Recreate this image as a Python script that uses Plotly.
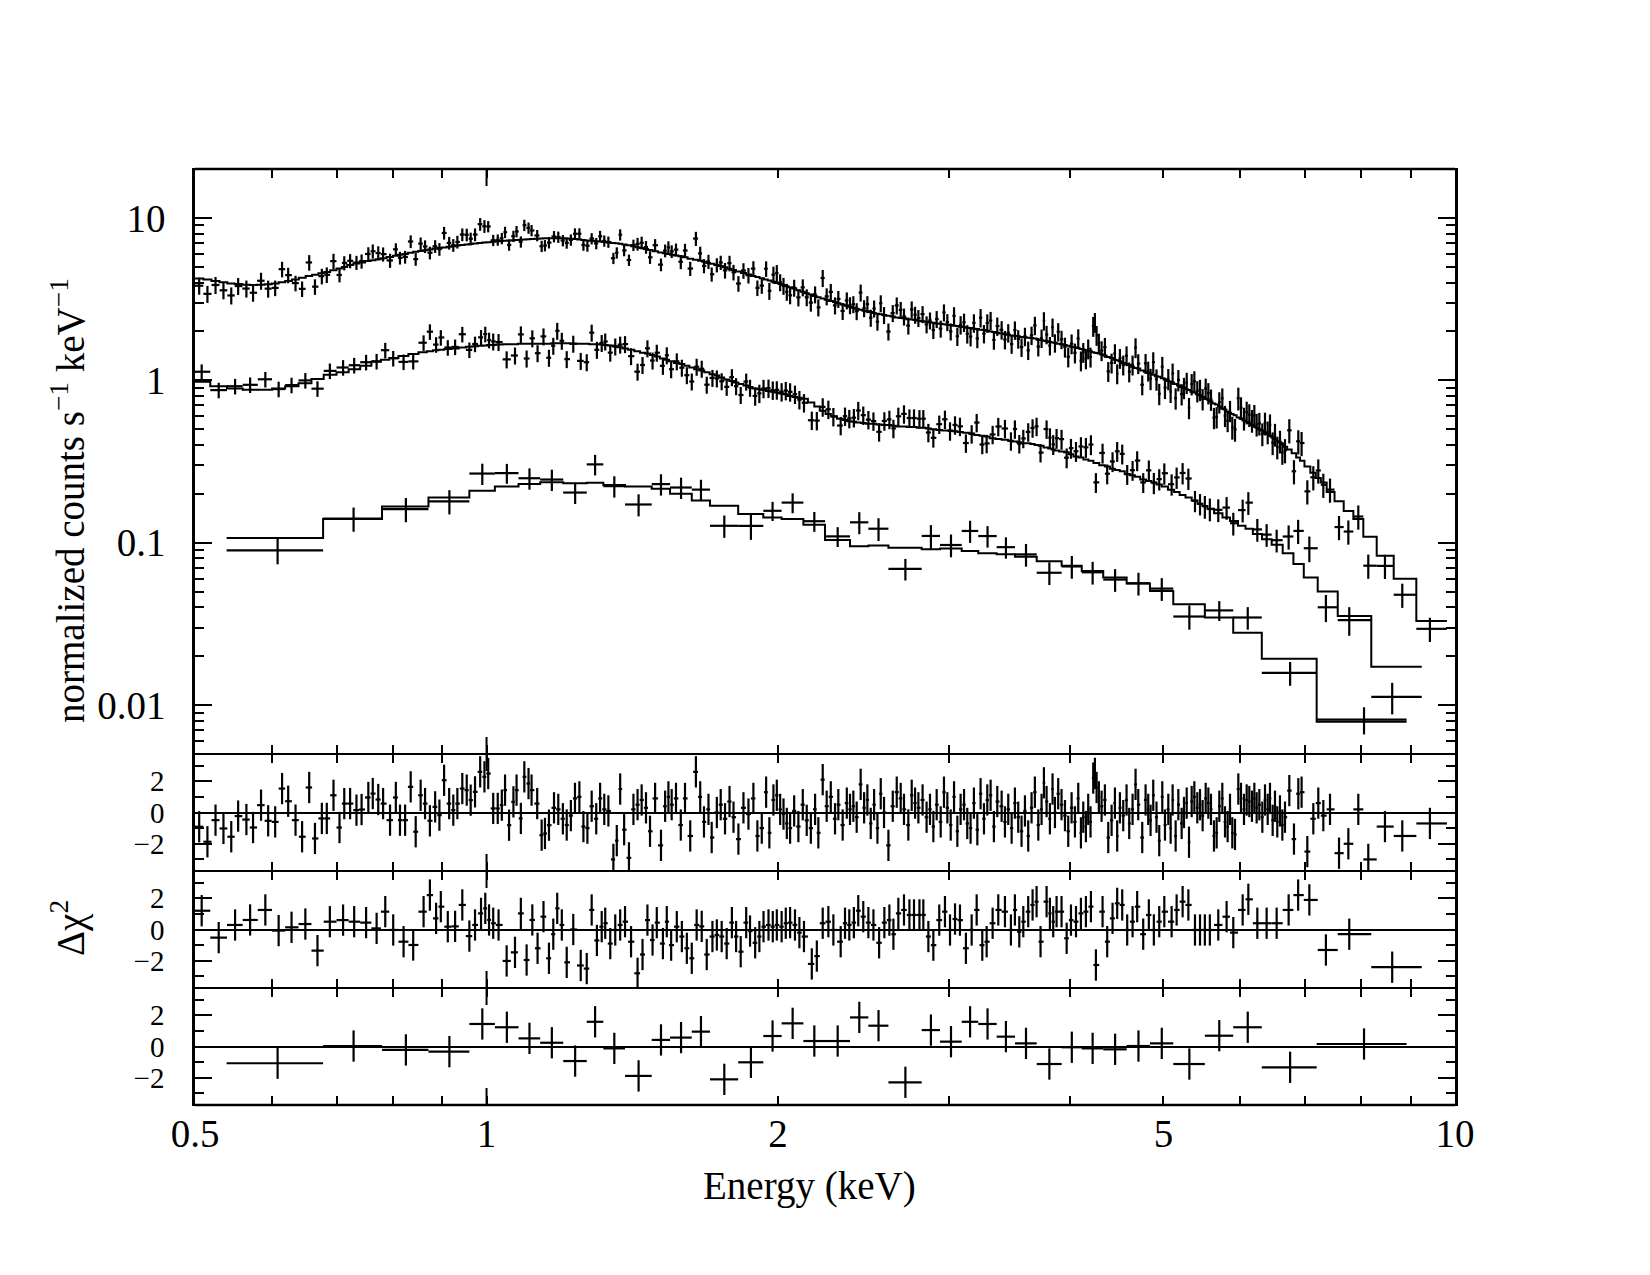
import math
import plotly.graph_objects as go
from plotly.subplots import make_subplots

FONT = "Liberation Serif, Times New Roman, serif"
FS = 39
FS_RES = 29

# ---------------- Spectrum A (brightest, finely binned) ----------------
A_energy = [
    0.505, 0.515, 0.525, 0.535, 0.545, 0.554, 0.565, 0.574, 0.585, 0.595,
    0.605, 0.615, 0.624, 0.635, 0.645, 0.656, 0.665, 0.676, 0.684, 0.695,
    0.705, 0.713, 0.723, 0.734, 0.743, 0.755, 0.763, 0.773, 0.782, 0.795,
    0.806, 0.814, 0.824, 0.835, 0.845, 0.855, 0.864, 0.874, 0.885, 0.894,
    0.904, 0.915, 0.924, 0.933, 0.944, 0.954, 0.963, 0.973, 0.985, 0.995,
    1.004, 1.016, 1.027, 1.037, 1.045, 1.055, 1.066, 1.074, 1.085, 1.094,
    1.105, 1.113, 1.128, 1.140, 1.149, 1.160,
    1.174, 1.186, 1.199, 1.210, 1.222, 1.234, 1.247, 1.259, 1.271, 1.284,
    1.298, 1.310, 1.323, 1.336, 1.352, 1.363, 1.374, 1.387, 1.403, 1.418,
    1.432, 1.446, 1.461, 1.475, 1.493, 1.514, 1.529, 1.541, 1.553, 1.569,
    1.587, 1.603, 1.623, 1.645, 1.662, 1.677, 1.695, 1.708, 1.729, 1.745,
    1.763, 1.782, 1.799, 1.820, 1.842, 1.864, 1.886, 1.904, 1.924, 1.944,
    1.959, 1.978, 1.994, 2.010, 2.026, 2.042, 2.058, 2.078, 2.099, 2.121,
    2.141, 2.162, 2.184, 2.201, 2.224, 2.245, 2.267, 2.290, 2.308, 2.332,
    2.355, 2.373, 2.392, 2.411, 2.434, 2.454, 2.473, 2.493, 2.513, 2.533,
    2.553, 2.573, 2.600, 2.627, 2.652, 2.677, 2.698, 2.726, 2.748, 2.770,
    2.792, 2.820, 2.847, 2.870, 2.893, 2.916, 2.944, 2.967, 2.991, 3.015,
    3.039, 3.063, 3.087, 3.112, 3.136, 3.161, 3.186, 3.212, 3.237, 3.263,
    3.289, 3.315, 3.341, 3.368,
    3.403, 3.430, 3.457, 3.485, 3.512, 3.540, 3.568, 3.597, 3.625, 3.654,
    3.683, 3.713, 3.742, 3.763, 3.787, 3.817, 3.841, 3.863, 3.893, 3.924,
    3.956, 3.987, 4.019, 4.051, 4.083, 4.109, 4.132, 4.158, 4.181, 4.204,
    4.231, 4.248, 4.265, 4.288, 4.316, 4.350, 4.385, 4.420, 4.455, 4.479,
    4.508, 4.544, 4.580, 4.609, 4.646, 4.679, 4.709, 4.754, 4.792, 4.822,
    4.849, 4.880, 4.918, 4.950, 4.986, 5.018, 5.058, 5.086, 5.110, 5.147,
    5.180, 5.221, 5.250, 5.284, 5.313, 5.347, 5.381, 5.419, 5.454, 5.488,
    5.528, 5.563, 5.598, 5.638, 5.674, 5.710, 5.751, 5.788, 5.824, 5.857,
    5.889, 5.927, 5.974, 6.012, 6.055, 6.094, 6.132, 6.171, 6.206, 6.240,
    6.280, 6.325, 6.365, 6.406, 6.441, 6.482, 6.518, 6.554, 6.596, 6.633,
    6.675, 6.744, 6.819, 6.890, 6.944, 7.039, 7.140, 7.225, 7.312, 7.429,
    7.590, 7.760, 7.946, 8.137, 8.466, 8.822, 9.421,
]
A_edge_lo, A_edge_hi = 0.500, 9.81
A_model = [
    4.24, 4.17, 4.09, 4.02, 3.95, 3.91, 3.87, 3.86, 3.87, 3.90,
    3.95, 4.02, 4.09, 4.18, 4.28, 4.38, 4.46, 4.56, 4.65, 4.76,
    4.88, 4.98, 5.13, 5.23, 5.31, 5.42, 5.48, 5.57, 5.64, 5.74,
    5.85, 5.92, 6.00, 6.10, 6.19, 6.26, 6.33, 6.39, 6.47, 6.52,
    6.58, 6.65, 6.70, 6.75, 6.81, 6.86, 6.91, 6.96, 7.01, 7.06,
    7.09, 7.13, 7.17, 7.20, 7.23, 7.26, 7.29, 7.31, 7.34, 7.37,
    7.39, 7.41, 7.44, 7.47, 7.49, 7.50,
    7.50, 7.50, 7.49, 7.47, 7.44, 7.41, 7.35, 7.31, 7.27, 7.22,
    7.18, 7.15, 7.10, 7.05, 7.00, 6.98, 6.93, 6.86, 6.78, 6.69,
    6.60, 6.52, 6.43, 6.34, 6.24, 6.13, 6.06, 5.99, 5.94, 5.86,
    5.80, 5.73, 5.61, 5.52, 5.44, 5.37, 5.28, 5.22, 5.13, 5.05,
    4.96, 4.86, 4.78, 4.68, 4.58, 4.48, 4.39, 4.32, 4.25, 4.17,
    4.11, 4.04, 3.97, 3.92, 3.86, 3.80, 3.74, 3.67, 3.59, 3.51,
    3.44, 3.37, 3.30, 3.25, 3.19, 3.13, 3.08, 3.03, 2.98, 2.93,
    2.88, 2.83, 2.80, 2.76, 2.72, 2.68, 2.66, 2.63, 2.60, 2.57,
    2.55, 2.52, 2.50, 2.47, 2.44, 2.42, 2.41, 2.38, 2.37, 2.35,
    2.33, 2.31, 2.29, 2.28, 2.26, 2.24, 2.23, 2.21, 2.20, 2.19,
    2.17, 2.16, 2.14, 2.13, 2.11, 2.10, 2.08, 2.07, 2.05, 2.04,
    2.02, 2.00, 1.98, 1.96,
    1.94, 1.92, 1.91, 1.89, 1.88, 1.87, 1.85, 1.84, 1.83, 1.82,
    1.81, 1.78, 1.77, 1.75, 1.74, 1.72, 1.71, 1.70, 1.68, 1.67,
    1.65, 1.63, 1.61, 1.60, 1.58, 1.56, 1.55, 1.53, 1.52, 1.51,
    1.49, 1.48, 1.47, 1.46, 1.44, 1.42, 1.39, 1.37, 1.34, 1.33,
    1.31, 1.28, 1.26, 1.24, 1.21, 1.19, 1.18, 1.15, 1.13, 1.11,
    1.10, 1.08, 1.06, 1.05, 1.03, 1.01, 0.99, 0.98, 0.97, 0.95,
    0.93, 0.91, 0.90, 0.88, 0.87, 0.85, 0.84, 0.82, 0.81, 0.79,
    0.77, 0.76, 0.74, 0.72, 0.71, 0.69, 0.67, 0.66, 0.64, 0.63,
    0.62, 0.61, 0.59, 0.58, 0.565, 0.555, 0.545, 0.53, 0.52, 0.51,
    0.50, 0.49, 0.475, 0.465, 0.455, 0.445, 0.435, 0.425, 0.415, 0.405,
    0.39, 0.375, 0.355, 0.335, 0.32, 0.295, 0.27, 0.25, 0.235, 0.205,
    0.180, 0.157, 0.140, 0.109, 0.083, 0.060, 0.033,
]
A_resid = [
    -0.91, -1.87, -0.49, -1.02, -1.55, -0.23, -0.45, -0.96, 0.47, -0.53,
    -0.6, 1.53, 0.72, -0.49, -1.55, 1.6, -1.66, -0.38, -0.38, 1.1,
    -0.96, 0.57, 0.57, 0.15, 0.19, 0.96, 1.21, 0.83, 0.57, -0.49,
    0.96, -0.49, -0.49, 1.64, -1.23, 1.1, 0.57, -0.53, 0.36, -0.17,
    2.06, 0.57, 0.15, 0.57, 1.53, 1.43, 0.79, 1.32, 2.6, 2.28,
    2.49, 0.26, 0.26, 0.47, 1.43, -0.81, 0.68, 1.43, -0.38, 2.28,
    1.85, 1.43, 0.57, -1.45, -1.34, -0.81,
    0.3, 0.2, -0.4, -0.8, -0.2, 0.9, 1.0, -0.9, -1.0, 0.4,
    -0.4, 0.9, 0.2, 0.1, -3.0, -1.8, 1.5, -1.1, -2.9, 0.2,
    0.5, 0.8, 0.3, -1.2, 0.9, -2.1, 0.4, 1.0, 0.5, 0.9,
    -0.8, 0.9, -1.5, 2.6, 1.0, -0.6, 0.2, -1.6, 0.0, 0.5,
    -0.4, 0.7, -0.3, -1.7, 0.3, -0.1, 0.9, -1.5, -1.0, 1.3,
    -1.3, 0.8, 1.1, 0.2, -0.1, -0.7, -1.0, 0.1, -0.9, 0.5,
    -0.5, -1.0, 0.2, -1.3, 2.1, 0.4, 1.0, -0.4, 0.5, -0.8,
    0.6, 0.2, 0.4, -0.3, 1.8, 0.3, 0.8, -0.7, 0.5, -1.0,
    1.2, 0.0, -2.1, 0.4, 1.3, 0.9, 0.2, -0.8, 1.1, 0.6,
    0.3, 0.8, -0.3, 0.2, -0.9, 0.5, -0.6, 1.3, 0.3, -0.8,
    1.0, -1.2, 0.2, 0.5, -0.7, -1.0, 0.6, -1.1, 1.2, -0.4,
    0.8, 1.1, -0.9, 0.7,
    0.4, -0.6, 0.2, -1.0, 0.6, -0.3, -1.2, 0.1, -1.5, 0.3,
    1.3, -0.8, 0.2, 1.9, 0.7, -0.4, 1.5, 0.0, 1.2, 0.5,
    -0.2, -1.2, 0.3, -0.6, 0.9, -1.3, -0.3, -0.9, 0.2, -0.6,
    2.2, 2.5, 1.6, 1.0, 0.4, 0.8, -1.6, -0.5, 0.6, -1.5,
    0.3, -0.2, 0.8, -0.7, 0.2, 1.8, 0.5, -1.6, 0.8, 0.2,
    -0.5, 1.1, -0.3, -1.8, 1.0, -0.8, 0.2, -1.0, 0.8, -1.5,
    0.5, -0.7, 0.0, 0.6, -1.9, 0.7, 1.0, 0.3, 0.5, -0.2,
    0.9, 0.6, 0.2, -1.5, -1.3, 0.4, 0.9, -0.6, -0.9, 0.2,
    -1.3, -1.4, 1.5, 0.9, 0.2, 0.8, 0.7, 0.4, 0.9, 0.3,
    0.5, -0.3, 0.8, 0.2, 0.9, -0.5, 0.4, -0.6, 0.1, -0.8,
    -0.3, 1.4, -1.7, 1.2, 1.3, -2.5, -0.4, 0.6, -0.2, 0.2,
    -2.6, -2.0, 0.2, -3.0, -0.9, -1.5, -0.7,
]
A_err_pct = [
    12, 12, 12, 12, 12, 12, 12, 12, 12, 12,
    11, 11, 11, 11, 11, 11, 11, 11, 11, 11,
    10, 10, 10, 10, 10, 10, 10, 10, 10, 10,
    9, 9, 9, 9, 9, 9, 9, 9, 9, 9,
    9, 9, 9, 9, 9, 9, 9, 9, 9, 9,
    8, 8, 8, 8, 8, 8, 8, 8, 8, 8,
    8, 8, 8, 8, 8, 8,
    8, 8, 8, 8, 8, 8, 8, 8, 8, 8,
    8, 8, 8, 8, 8, 8, 8, 8, 8, 8,
    9, 9, 9, 9, 9, 9, 9, 9, 9, 9,
    10, 10, 10, 10, 10, 10, 10, 10, 10, 10,
    11, 11, 11, 11, 11, 11, 11, 11, 11, 11,
    12, 12, 12, 12, 12, 12, 12, 12, 12, 12,
    12, 12, 12, 12, 12, 12, 12, 12, 12, 12,
    12, 12, 12, 12, 12, 12, 12, 12, 12, 12,
    12, 12, 12, 12, 12, 12, 12, 12, 12, 12,
    12, 12, 12, 12, 12, 12, 12, 12, 12, 12,
    13, 13, 13, 13, 13, 13, 13, 13, 13, 13,
    13, 13, 13, 13,
    13, 13, 13, 13, 13, 13, 13, 13, 13, 13,
    13, 13, 13, 13, 13, 13, 13, 13, 13, 13,
    14, 14, 14, 14, 14, 14, 14, 14, 14, 14,
    14, 14, 14, 14, 14, 14, 14, 14, 14, 14,
    14, 14, 14, 14, 14, 14, 14, 14, 14, 14,
    15, 15, 15, 15, 15, 15, 15, 15, 15, 15,
    15, 15, 15, 15, 15, 15, 15, 15, 15, 15,
    15, 15, 15, 15, 15, 15, 15, 15, 15, 15,
    16, 16, 16, 16, 16, 16, 16, 16, 16, 16,
    16, 16, 16, 16, 16, 16, 16, 16, 16, 16,
    17, 17, 17, 17, 17, 17, 17, 17, 17, 17,
    17, 17, 17, 17, 17, 17, 17,
]

# ---------------- Spectrum B (middle) ----------------
B_energy = [
    0.508, 0.529, 0.550, 0.570, 0.591, 0.610, 0.629, 0.650, 0.669, 0.689,
    0.711, 0.730, 0.751, 0.770, 0.786, 0.801, 0.821, 0.840, 0.861, 0.874,
    0.887, 0.897, 0.912, 0.928, 0.944, 0.960, 0.973, 0.987, 0.997, 1.006,
    1.016, 1.029, 1.049, 1.070, 1.085, 1.100, 1.115, 1.129, 1.145, 1.160,
    1.172, 1.183, 1.196, 1.210, 1.229, 1.251, 1.269, 1.284, 1.300, 1.315,
    1.326, 1.342, 1.358, 1.374, 1.390, 1.410, 1.432, 1.449, 1.466, 1.484,
    1.499, 1.521, 1.535, 1.551, 1.572, 1.591, 1.610, 1.629, 1.648, 1.668,
    1.688, 1.711, 1.729, 1.749, 1.770, 1.792, 1.810, 1.830, 1.854, 1.871,
    1.894, 1.913, 1.932, 1.955, 1.975, 1.994, 2.017, 2.037, 2.058, 2.082,
    2.104, 2.127, 2.167, 2.193, 2.224, 2.254, 2.281, 2.321, 2.345, 2.369,
    2.395, 2.420, 2.449, 2.479, 2.509, 2.543, 2.575, 2.606, 2.631, 2.662,
    2.698, 2.733, 2.763, 2.799, 2.825, 2.859, 2.893, 2.934, 2.974, 3.010,
    3.046, 3.082, 3.126, 3.169, 3.207, 3.250, 3.284, 3.331, 3.376,
    3.430, 3.479, 3.512, 3.549, 3.583, 3.625, 3.663, 3.698, 3.733, 3.787,
    3.817, 3.847, 3.878, 3.924, 3.972, 4.013, 4.061, 4.109, 4.158, 4.208,
    4.258, 4.326, 4.374, 4.430, 4.479, 4.533, 4.587, 4.646, 4.697, 4.765,
    4.829, 4.887, 4.950, 5.010, 5.098, 5.159, 5.233, 5.305, 5.389, 5.454,
    5.517, 5.583, 5.696, 5.810, 5.903, 6.036, 6.118, 6.250, 6.390, 6.544,
    6.733, 6.887, 7.073, 7.357, 7.777, 8.613,
]
B_edge_lo, B_edge_hi = 0.500, 9.24
B_model = [
    0.98, 0.92, 0.89, 0.875, 0.875, 0.89, 0.92, 0.96, 1.02, 1.08,
    1.12, 1.17, 1.23, 1.30, 1.34, 1.37, 1.41, 1.45, 1.49, 1.51,
    1.53, 1.54, 1.56, 1.57, 1.59, 1.61, 1.62, 1.63, 1.64, 1.65,
    1.65, 1.66, 1.67, 1.67, 1.68, 1.68, 1.68, 1.68, 1.68, 1.68,
    1.69, 1.69, 1.69, 1.69, 1.68, 1.68, 1.68, 1.67, 1.67, 1.66,
    1.65, 1.64, 1.62, 1.60, 1.57, 1.54, 1.51, 1.48, 1.46, 1.43,
    1.40, 1.36, 1.34, 1.31, 1.28, 1.26, 1.23, 1.20, 1.17, 1.15,
    1.12, 1.09, 1.07, 1.04, 1.01, 0.99, 0.97, 0.95, 0.93, 0.91,
    0.89, 0.88, 0.87, 0.86, 0.85, 0.84, 0.83, 0.82, 0.80, 0.79,
    0.78, 0.77, 0.73, 0.69, 0.65, 0.62, 0.60, 0.58, 0.57, 0.56,
    0.555, 0.55, 0.545, 0.54, 0.54, 0.535, 0.53, 0.53, 0.525, 0.52,
    0.52, 0.515, 0.515, 0.51, 0.51, 0.505, 0.50, 0.495, 0.49, 0.49,
    0.485, 0.48, 0.475, 0.47, 0.46, 0.455, 0.45, 0.44, 0.435,
    0.43, 0.425, 0.42, 0.415, 0.41, 0.41, 0.405, 0.40, 0.395, 0.385,
    0.38, 0.375, 0.37, 0.365, 0.36, 0.35, 0.34, 0.335, 0.325, 0.32,
    0.31, 0.30, 0.295, 0.285, 0.28, 0.275, 0.265, 0.26, 0.255, 0.245,
    0.24, 0.235, 0.228, 0.222, 0.212, 0.205, 0.197, 0.19, 0.182, 0.174,
    0.168, 0.162, 0.152, 0.143, 0.136, 0.127, 0.122, 0.113, 0.105, 0.097,
    0.086, 0.074, 0.061, 0.050, 0.0354, 0.0172,
]
B_resid = [
    1.2, -0.52, 0.29, 0.61, 1.25, -0.07, 0.14, 0.35, -1.35, 0.5,
    0.6, 0.5, 0.44, 0.07, 1.14, -0.03, -0.78, -0.99, 1.14, 2.2,
    0.71, 1.46, 0.18, 0.2, 1.57, -0.42, 0.29, 1.03, 1.35, 0.61,
    0.4, 0.29, -2.01, -1.46, 1.03, -1.95, 0.61, -1.2, 0.82, -1.84,
    -0.3, 1.35, 0.29, -2.1, 0.0, -2.3, -2.5, 1.25, -0.7, 0.18,
    0.4, -0.9, -0.03, 0.29, 0.5, -0.78, -2.8, -1.6, 0.6, -0.67,
    0.44, -0.9, 0.5, -1.0, 0.18, -0.45, -1.2, -1.84, 0.29, 0.2,
    -1.6, -0.45, -0.35, -0.45, -0.9, 0.44, -0.45, -1.42, 0.44, -0.1,
    -0.85, -0.45, 0.18, 0.29, 0.18, 0.29, 0.18, 0.4, 0.44, 0.29,
    -0.2, -0.45, -2.2, -1.7, 0.4, 0.5, -0.03, -0.78, 0.4, 0.29,
    0.44, 1.2, 0.82, 0.44, 0.29, -0.85, 0.44, 0.6, -0.3, 1.03,
    1.25, 0.93, 0.93, 0.93, 0.93, -0.45, -1.0, 0.6, 1.14, -0.03,
    0.67, 0.6, -1.2, -0.03, 1.25, -1.0, -0.78, 0.4, 1.25,
    1.14, -0.03, 1.25, -0.15, 0.5, 1.14, 1.57, 1.78, -0.78, 1.78,
    1.03, 0.5, 1.14, 1.14, -0.56, 0.6, 0.5, 1.03, 1.14, 1.46,
    -2.27, 1.14, -0.78, 0.71, 1.67, 1.57, -0.03, 0.5, 1.46, -0.3,
    0.93, -0.03, 0.5, 1.14, 0.5, 1.25, 1.78, 1.57, -0.03, -0.03,
    -0.03, -0.03, 0.29, 0.82, -0.2, 1.25, 1.93, 0.4, 0.4, 0.4,
    1.25, 2.2, 1.89, -1.31, -0.3, -2.41,
]
B_err_pct = [
    11, 11, 11, 11, 11, 11, 11, 11, 11, 11,
    11, 11, 11, 11, 11, 11, 11, 11, 11, 11,
    11, 11, 11, 11, 11, 11, 11, 11, 11, 11,
    12, 12, 12, 12, 12, 12, 12, 12, 12, 12,
    12, 12, 12, 12, 12, 12, 12, 12, 12, 12,
    12, 12, 12, 12, 12, 12, 12, 12, 12, 12,
    12, 12, 12, 12, 12, 12, 12, 12, 12, 12,
    12, 12, 12, 12, 12, 12, 12, 12, 12, 12,
    13, 13, 13, 13, 13, 13, 13, 13, 13, 13,
    13, 13, 13, 13, 13, 13, 13, 13, 13, 13,
    13, 13, 13, 13, 13, 13, 13, 13, 13, 13,
    13, 13, 13, 13, 13, 13, 13, 13, 13, 13,
    13, 13, 13, 13, 13, 13, 13, 13, 13,
    13, 13, 13, 13, 13, 13, 13, 13, 13, 13,
    14, 14, 14, 14, 14, 14, 14, 14, 14, 14,
    14, 14, 14, 14, 14, 14, 14, 14, 14, 14,
    15, 15, 15, 15, 15, 15, 15, 15, 15, 15,
    16, 16, 16, 16, 16, 16, 16, 16, 16, 16,
    17, 17, 18, 19, 20, 22,
]

# ---------------- Spectrum C (faintest, coarse bins) ----------------
C_edges = [
    0.539, 0.678, 0.780, 0.871, 0.960, 1.020, 1.079, 1.136, 1.200, 1.269,
    1.320, 1.390, 1.481, 1.547, 1.629, 1.701, 1.819, 1.931, 2.017, 2.124,
    2.236, 2.373, 2.479, 2.600, 2.814, 2.939, 3.095, 3.219, 3.363, 3.513,
    3.699, 3.925, 4.117, 4.333, 4.581, 4.842, 5.118, 5.517, 5.902, 6.317,
    7.197, 8.913,
]
C_model = [
    0.107, 0.140, 0.167, 0.190, 0.209, 0.222, 0.230, 0.236, 0.232, 0.234,
    0.227, 0.222, 0.215, 0.200, 0.182, 0.169, 0.150, 0.143, 0.140, 0.129,
    0.104, 0.095, 0.096, 0.093, 0.091, 0.092, 0.089, 0.086, 0.085, 0.082,
    0.077, 0.072, 0.067, 0.061, 0.056, 0.0505, 0.0418, 0.0346, 0.0279, 0.0193,
    0.0079,
]
C_resid = [
    -1.07, 0.03, -0.22, -0.33, 1.44, 1.23, 0.52, 0.24, -0.93, 1.58,
    -0.12, -1.88, 0.42, 0.57, 0.95, -2.1, -1.01, 0.67, 1.48, 0.35,
    0.35, 1.86, 1.33, -2.29, 1.05, 0.31, 1.58, 1.44, 0.63, 0.2,
    -1.12, -0.05, -0.12, -0.18, 0.03, 0.2, -1.12, 0.69, 1.23, -1.33,
    0.16,
]
C_err_pct = [
    18, 17, 17, 17, 15, 14, 15, 15, 15, 14.5,
    15, 15.5, 15, 15, 15, 15.7, 18, 13.5, 14, 14,
    14, 15.5, 16, 15.2, 16.5, 16, 15.6, 15.1, 15, 16,
    16, 16, 16, 16, 16, 16, 17, 14, 15.8, 16.7,
    19,
]

# ---------------- axis tick definitions ----------------
x_tick_vals = [0.5, 1, 2, 5, 10]
x_tick_text = ["0.5", "1", "2", "5", "10"]
x_minor_vals = [0.6, 0.7, 0.8, 0.9, 3, 4, 6, 7, 8, 9]
x_long_tick = 1
y_tick_vals = [0.01, 0.1, 1, 10]
y_tick_text = ["0.01", "0.1", "1", "10"]
y_minor_vals = [0.006, 0.007, 0.008, 0.009,
                0.02, 0.03, 0.04, 0.05, 0.06, 0.07, 0.08, 0.09,
                0.2, 0.3, 0.4, 0.5, 0.6, 0.7, 0.8, 0.9,
                2, 3, 4, 5, 6, 7, 8, 9]
r_tick_vals = [-2, 0, 2]
r_tick_text = ["\u22122", "0", "2"]
r_minor_vals = [-3, -1, 1, 3]
y_range = [0.005, 20]
r_range = [-3.74, 3.74]
x_range = [0.5, 10]


def edges_from_centres(centres, lo, hi):
    mids = [(a + b) / 2 for a, b in zip(centres[:-1], centres[1:])]
    return [lo] + mids + [hi]


def derive(centres, edges, model, resid, err_pct):
    data = [m / (1 - r * p / 100.0) for m, r, p in zip(model, resid, err_pct)]
    sigma = [d * p / 100.0 for d, p in zip(data, err_pct)]
    chi = [(d - m) / s for d, m, s in zip(data, model, sigma)]
    xplus = [h - c for c, h in zip(centres, edges[1:])]
    xminus = [c - l for c, l in zip(centres, edges[:-1])]
    return data, sigma, chi, xplus, xminus


A_edges = edges_from_centres(A_energy, A_edge_lo, A_edge_hi)
B_edges = edges_from_centres(B_energy, B_edge_lo, B_edge_hi)
C_energy = [(a + b) / 2 for a, b in zip(C_edges[:-1], C_edges[1:])]

spectra = [
    (A_energy, A_edges, A_model, A_resid, A_err_pct),
    (B_energy, B_edges, B_model, B_resid, B_err_pct),
    (C_energy, C_edges, C_model, C_resid, C_err_pct),
]

fig = make_subplots(rows=4, cols=1, shared_xaxes=True, vertical_spacing=0,
                    row_heights=[0.625, 0.125, 0.125, 0.125])

LW = 2.2
for i, (cen, edg, mod, res, pct) in enumerate(spectra):
    data, sigma, chi, xp, xm = derive(cen, edg, mod, res, pct)
    fig.add_trace(go.Scatter(
        x=cen, y=data, mode="markers",
        marker=dict(size=1, color="black"),
        error_x=dict(type="data", symmetric=False, array=xp, arrayminus=xm,
                     color="black", thickness=LW, width=0),
        error_y=dict(type="data", array=sigma, color="black",
                     thickness=LW, width=0),
        showlegend=False, hoverinfo="skip"), row=1, col=1)
    fig.add_trace(go.Scatter(
        x=edg, y=mod + [mod[-1]], mode="lines",
        line=dict(color="black", width=2, shape="hv"),
        showlegend=False, hoverinfo="skip"), row=1, col=1)
    fig.add_trace(go.Scatter(
        x=cen, y=chi, mode="markers",
        marker=dict(size=1, color="black"),
        error_x=dict(type="data", symmetric=False, array=xp, arrayminus=xm,
                     color="black", thickness=LW, width=0),
        error_y=dict(type="data", array=[1.0] * len(chi), color="black",
                     thickness=LW, width=0),
        showlegend=False, hoverinfo="skip"), row=i + 2, col=1)

tickfont = dict(family=FONT, size=FS, color="black")
resfont = dict(family=FONT, size=FS_RES, color="black")

fig.update_xaxes(
    type="log", range=[math.log10(x_range[0]), math.log10(x_range[1])],
    tickmode="array", tickvals=x_tick_vals, ticktext=x_tick_text,
    ticks="inside", ticklen=9, tickwidth=2, tickcolor="black",
    showline=True, linewidth=1.25, linecolor="black", mirror="allticks",
    showgrid=False, zeroline=False, tickfont=tickfont,
    ticklabelstandoff=-6,
    minor=dict(tickmode="array", tickvals=x_minor_vals, ticks="inside",
               ticklen=9, tickwidth=2, tickcolor="black", showgrid=False),
)
fig.update_yaxes(
    type="log", range=[math.log10(y_range[0]), math.log10(y_range[1])],
    tickmode="array", tickvals=y_tick_vals, ticktext=y_tick_text,
    ticks="inside", ticklen=17, tickwidth=2, tickcolor="black",
    showline=True, linewidth=2.5, linecolor="black", mirror="allticks",
    showgrid=False, zeroline=False, tickfont=tickfont, ticklabelstandoff=19,
    minor=dict(tickmode="array", tickvals=y_minor_vals, ticks="inside",
               ticklen=9, tickwidth=2, tickcolor="black", showgrid=False),
    row=1, col=1)
for r in (2, 3, 4):
    fig.update_yaxes(
        range=r_range, tickmode="array", tickvals=r_tick_vals,
        ticktext=r_tick_text, ticks="inside", ticklen=17, tickwidth=2,
        tickcolor="black", showline=True, linewidth=2.5, linecolor="black",
        mirror="allticks", showgrid=False, zeroline=True,
        zerolinecolor="black", zerolinewidth=2, tickfont=resfont,
        ticklabelstandoff=22,
        minor=dict(tickmode="array", tickvals=r_minor_vals, ticks="inside",
                   ticklen=9, tickwidth=2, tickcolor="black", showgrid=False),
        row=r, col=1)

shapes = []
# long (decade) ticks at 1 keV on the top and bottom of every panel
for k in range(1, 5):
    xr = "x" if k == 1 else "x%d" % k
    yr = ("y" if k == 1 else "y%d" % k) + " domain"
    for anchor, y0, y1 in ((0, 0, 17), (1, -17, 0)):
        shapes.append(dict(type="line", xref=xr, yref=yr, x0=x_long_tick,
                           x1=x_long_tick, ysizemode="pixel", yanchor=anchor,
                           y0=y0, y1=y1, line=dict(color="black", width=2),
                           layer="above"))
# thicker outer top and bottom frame lines
for yy in (0, 1):
    shapes.append(dict(type="line", xref="paper", yref="paper", x0=0, x1=1,
                       y0=yy, y1=yy, line=dict(color="black", width=2.5),
                       layer="above"))

annotations = [
    dict(text="normalized counts s<sup>\u22121</sup> keV<sup>\u22121</sup>",
         xref="paper", yref="paper", x=-0.1008, y=0.6464, textangle=-90,
         showarrow=False, xanchor="center", yanchor="middle",
         font=dict(family=FONT, size=FS, color="black")),
    dict(text="\u0394\u03c7<sup>2</sup>",
         xref="paper", yref="paper", x=-0.1008, y=0.1891, textangle=-90,
         showarrow=False, xanchor="center", yanchor="middle",
         font=dict(family=FONT, size=FS, color="black")),
    dict(text="Energy (keV)", xref="paper", yref="paper", x=0.488, y=-0.0865,
         showarrow=False, xanchor="center", yanchor="middle",
         font=dict(family=FONT, size=FS, color="black")),
]

fig.update_layout(
    width=1650, height=1275,
    margin=dict(l=195, r=195, t=169, b=170),
    paper_bgcolor="white", plot_bgcolor="white",
    shapes=shapes, annotations=annotations,
    font=dict(family=FONT, size=FS, color="black"),
)

fig.write_html("out.html")
